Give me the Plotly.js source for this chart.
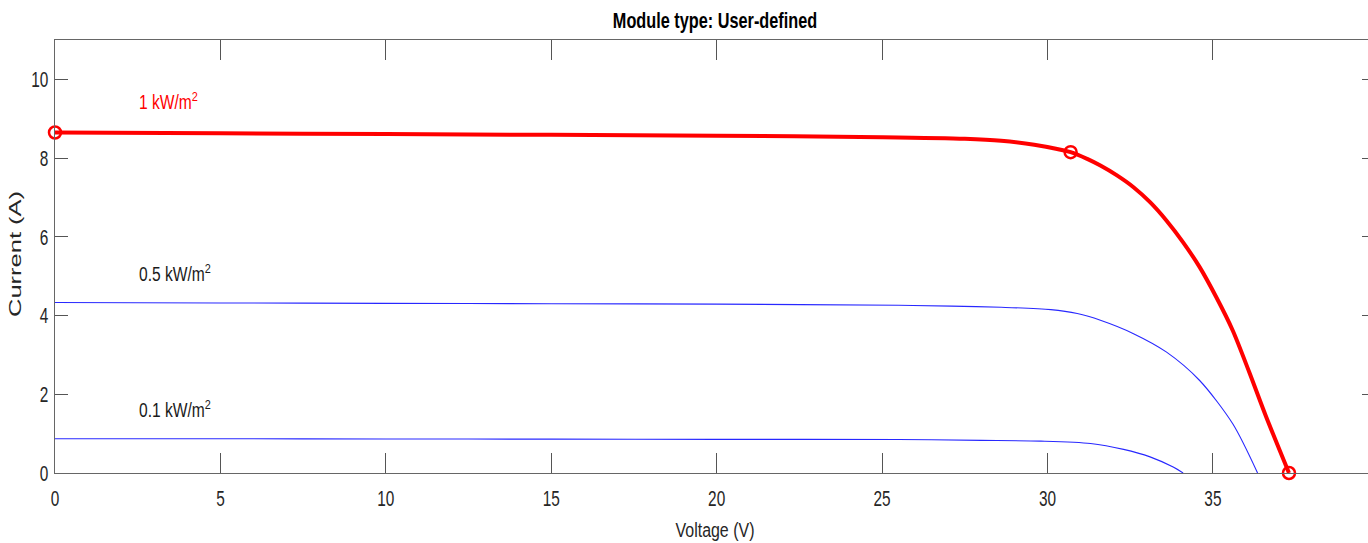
<!DOCTYPE html>
<html>
<head>
<meta charset="utf-8">
<script src="https://cdn.plot.ly/plotly-3.0.1.min.js"></script>
<style>
  html, body { margin: 0; padding: 0; background: #fff; overflow: hidden; }
  #chart { width: 1390px; height: 543px; }
</style>
</head>
<body>
<div id="chart"></div>
<script>
// I-V curves of a PV module at three irradiance levels
const voltage1 = [0, 5, 10, 15, 20, 25, 27.5, 28.6, 29.6, 30.7, 31.2, 31.6, 32.1, 32.6, 33.1, 33.6, 34.1, 34.6, 35.1, 35.6, 36.1, 36.6, 37.3];
const current1 = [8.65, 8.63, 8.61, 8.59, 8.57, 8.53, 8.49, 8.44, 8.34, 8.15, 7.98, 7.81, 7.56, 7.26, 6.88, 6.41, 5.86, 5.23, 4.47, 3.62, 2.56, 1.45, 0];

const voltage05 = [0, 5, 10, 15, 20, 25.5, 27.1, 28.6, 30.1, 30.9, 31.6, 32.6, 33.6, 34.6, 35.6, 36.35];
const current05 = [4.33, 4.32, 4.31, 4.30, 4.29, 4.26, 4.24, 4.21, 4.15, 4.05, 3.88, 3.54, 3.07, 2.35, 1.25, 0];

const voltage01 = [0, 5, 10, 15, 20, 25.5, 28, 29.8, 31.3, 32.3, 33.1, 33.8, 34.1];
const current01 = [0.87, 0.87, 0.865, 0.86, 0.855, 0.85, 0.83, 0.81, 0.75, 0.60, 0.41, 0.15, 0];

// key points of the 1 kW/m2 curve: short circuit, maximum power, open circuit
const keyVoltage = [0, 30.7, 37.3];
const keyCurrent = [8.65, 8.15, 0];

const labelText = ['1 kW/m<sup>2</sup>', '0.5 kW/m<sup>2</sup>', '0.1 kW/m<sup>2</sup>'];
const labelV = [2.47, 2.47, 2.47];
const labelI = [9.46, 5.07, 1.62];
const labelColor = ['#ff0000', '#1a1a1a', '#1a1a1a'];

const xTicks = [0, 5, 10, 15, 20, 25, 30, 35];
const yTicks = [0, 2, 4, 6, 8, 10];

const sans = '"Liberation Sans", Arial, Helvetica, sans-serif';
const blue = 'rgb(40,40,255)';

const traces = [
  { x: voltage05, y: current05, mode: 'lines', line: { color: blue, width: 1.1, shape: 'spline', smoothing: 0.8 }, hoverinfo: 'skip' },
  { x: voltage01, y: current01, mode: 'lines', line: { color: blue, width: 1.1, shape: 'spline', smoothing: 0.8 }, hoverinfo: 'skip' },
  { x: voltage1, y: current1, mode: 'lines', line: { color: '#ff0000', width: 4, shape: 'spline', smoothing: 0.8 }, hoverinfo: 'skip' },
  { x: keyVoltage, y: keyCurrent, mode: 'markers', cliponaxis: false,
    marker: { symbol: 'circle-open', size: 12, color: '#ff0000', line: { color: '#ff0000', width: 2.5 } }, hoverinfo: 'skip' }
];

const annotations = labelText.map((t, k) => ({
  x: labelV[k], y: labelI[k], xref: 'x', yref: 'y', text: t, showarrow: false,
  xanchor: 'left', yanchor: 'middle',
  font: { family: sans, size: 19.5, color: labelColor[k] }
}));

// vertical axis label
annotations.push({
  x: 0, y: 0.5, xref: 'paper', yref: 'paper', xshift: -40.5, yshift: 2,
  text: 'Current (A)', textangle: -90, showarrow: false,
  xanchor: 'center', yanchor: 'middle',
  font: { family: sans, size: 25.5, color: '#262626' }
});

const layout = {
  width: 1390, height: 543,
  margin: { l: 55, r: 15, t: 40, b: 70 },
  paper_bgcolor: '#ffffff', plot_bgcolor: '#ffffff',
  showlegend: false,
  title: {
    text: '<b>Module type: User-defined</b>',
    font: { family: sans, size: 22, color: '#000' },
    x: 715 / 1390, xanchor: 'center', xref: 'container',
    y: 1 - 20 / 543, yanchor: 'middle', yref: 'container'
  },
  xaxis: {
    range: [0, 39.9], autorange: false,
    tickvals: xTicks, ticktext: xTicks.map(String),
    ticks: 'inside', ticklen: 20, tickwidth: 1, tickcolor: '#555',
    showline: true, linecolor: '#666', linewidth: 1.3, mirror: 'ticks',
    showgrid: false, zeroline: false,
    tickfont: { family: sans, size: 22, color: '#262626' },
    ticklabelstandoff: 5,
    title: { text: 'Voltage (V)', font: { family: sans, size: 21, color: '#262626' }, standoff: 12 }
  },
  yaxis: {
    range: [0, 11], autorange: false,
    tickvals: yTicks, ticktext: yTicks.map(String),
    ticks: 'inside', ticklen: 13, tickwidth: 1, tickcolor: '#555',
    showline: true, linecolor: '#666', linewidth: 1.3, mirror: 'ticks',
    showgrid: false, zeroline: false,
    tickfont: { family: sans, size: 22, color: '#262626' },
    ticklabelstandoff: 1
  },
  annotations: annotations
};

// Narrow the lettering: scale each text element along its glyph width,
// keeping the side it is anchored on in place.
function narrowText(root, selector, k, mode) {
  root.querySelectorAll(selector).forEach(el => {
    const b = el.getBBox();
    const base = el.getAttribute('transform') || '';
    let t;
    if (mode === 'vertical') {
      const cy = b.y + b.height / 2;
      t = `translate(0,${cy}) scale(1,${k}) translate(0,${-cy})`;
    } else {
      const ox = mode === 'start' ? b.x : mode === 'end' ? b.x + b.width : b.x + b.width / 2;
      t = `translate(${ox},0) scale(${k},1) translate(${-ox},0)`;
    }
    el.setAttribute('transform', (base + ' ' + t).trim());
  });
}

const gd = document.getElementById('chart');
Plotly.newPlot(gd, traces, layout, { displayModeBar: false, staticPlot: true }).then(() => {
  // drop empty placeholder text nodes
  gd.querySelectorAll('text').forEach(el => {
    if (!el.textContent.trim()) el.remove();
  });
  narrowText(gd, '.xtick text', 0.70, 'middle');
  narrowText(gd, '.ytick text', 0.70, 'end');
  narrowText(gd, '.gtitle', 0.74, 'middle');
  narrowText(gd, '.xtitle', 0.76, 'middle');
  const notes = gd.querySelectorAll('.annotation');
  notes.forEach((g, i) => {
    const txt = g.querySelector('.annotation-text');
    if (!txt) return;
    txt.classList.add(i < labelText.length ? 'irr-label' : 'axis-label');
  });
  narrowText(gd, '.irr-label', 0.80, 'start');
  narrowText(gd, '.axis-label', 0.65, 'vertical');
});
</script>
</body>
</html>
